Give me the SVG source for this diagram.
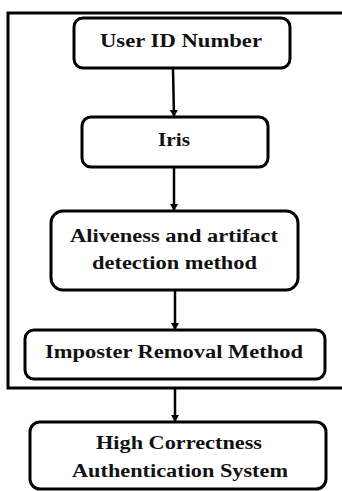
<svg xmlns="http://www.w3.org/2000/svg" width="342" height="491" viewBox="0 0 342 491">
<style>
.box{fill:#fff;stroke:#000;stroke-width:3}
.frame{fill:none;stroke:#000;stroke-width:3}
.t{font-family:"Liberation Serif","Times New Roman",serif;font-weight:bold;font-size:18.5px;fill:#111;text-anchor:middle}
.c{stroke:#000;stroke-width:2.5;fill:none;marker-end:url(#ah)}
</style>
<defs>
<marker id="ah" markerWidth="8" markerHeight="8" refX="7" refY="4" orient="auto" markerUnits="userSpaceOnUse">
<path d="M0,0 L7,4 L0,8 Z" fill="#000"/>
</marker>
</defs>
<rect class="frame" x="8" y="13" width="340" height="375"/>
<g id="connectors">
<line class="c" x1="173" y1="69" x2="174" y2="117"/>
<line class="c" x1="174" y1="168" x2="174" y2="211"/>
<line class="c" x1="175" y1="291" x2="175" y2="330"/>
<line class="c" x1="175" y1="389" x2="175" y2="422"/>
</g>
<g id="user-id">
<rect class="box" x="74" y="18" width="216" height="50" rx="9"/>
<text class="t" x="181" y="47" textLength="162" lengthAdjust="spacingAndGlyphs">User ID Number</text>
</g>
<g id="iris">
<rect class="box" x="82" y="117" width="186" height="50" rx="9"/>
<text class="t" x="174" y="146" textLength="32" lengthAdjust="spacingAndGlyphs">Iris</text>
</g>
<g id="aliveness">
<rect class="box" x="51" y="211" width="247" height="79" rx="12"/>
<text class="t" x="174" y="242" textLength="208" lengthAdjust="spacingAndGlyphs">Aliveness and artifact</text>
<text class="t" x="174.5" y="269" textLength="165" lengthAdjust="spacingAndGlyphs">detection method</text>
</g>
<g id="imposter">
<rect class="box" x="25" y="330" width="300" height="49" rx="9"/>
<text class="t" x="174" y="358" textLength="258" lengthAdjust="spacingAndGlyphs">Imposter Removal Method</text>
</g>
<g id="high">
<rect class="box" x="30" y="422" width="296" height="67" rx="10"/>
<text class="t" x="179" y="449" textLength="166" lengthAdjust="spacingAndGlyphs">High Correctness</text>
<text class="t" x="180" y="477" textLength="216" lengthAdjust="spacingAndGlyphs">Authentication System</text>
</g>
</svg>
